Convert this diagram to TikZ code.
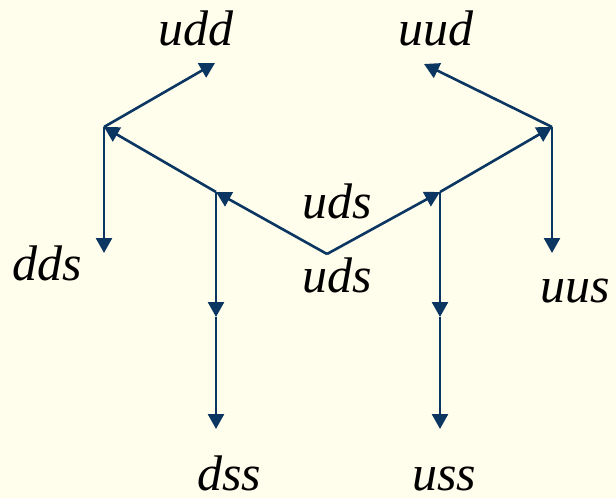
\documentclass[tikz,border=0pt]{standalone}
\usepackage{fontspec}
\setmainfont{Liberation Serif}
\usetikzlibrary{arrows.meta}
\definecolor{paper}{RGB}{255,253,236}
\definecolor{navy}{RGB}{10,54,97}
\begin{document}
\begin{tikzpicture}[x=1pt,y=-1pt,
  link/.style={draw=navy,line width=2.6pt,-{Triangle[length=15pt,width=16pt]}},
  quark/.style={anchor=base,font=\fontsize{50}{60}\selectfont\itshape,inner sep=0pt,text=black}]
  % page
  \fill[paper] (0,0) rectangle (616,498);
  \useasboundingbox (0,0) rectangle (616,498);

  % junction points of the weight diagram
  \coordinate (C)    at (327,254);
  \coordinate (L1)   at (216,192);
  \coordinate (L2)   at (104,127);
  \coordinate (Ltop) at (215,63);
  \coordinate (Ldn)  at (104,253);
  \coordinate (Lmid) at (216,317);
  \coordinate (Lbot) at (216,429);
  \coordinate (R1)   at (440,192);
  \coordinate (R2)   at (552,127);
  \coordinate (Rtop) at (424,64);
  \coordinate (Rdn)  at (552,253);
  \coordinate (Rmid) at (440,317);
  \coordinate (Rbot) at (440,429);

  % labels
  \node[quark] (udd)  at (195.5,45) {udd};
  \node[quark] (uud)  at (436,45)   {uud};
  \node[quark] (uds1) at (337,218)  {uds};
  \node[quark] (uds2) at (337,292)  {uds};
  \node[quark] (dds)  at (47,280)   {dds};
  \node[quark] (uus)  at (575,302)  {uus};
  \node[quark] (dss)  at (229,490)  {dss};
  \node[quark] (uss)  at (444,490)  {uss};

  % left branch
  \draw[link] (C) -- (L1);
  \draw[link] (L1) -- (L2);
  \draw[link] (L2) -- (Ltop);
  \draw[link] (L2) -- (Ldn);
  \draw[link] (L1) -- (Lmid);
  \draw[link] (Lmid) -- (Lbot);

  % right branch
  \draw[link] (C) -- (R1);
  \draw[link] (R1) -- (R2);
  \draw[link] (R2) -- (Rtop);
  \draw[link] (R2) -- (Rdn);
  \draw[link] (R1) -- (Rmid);
  \draw[link] (Rmid) -- (Rbot);
\end{tikzpicture}
\end{document}
